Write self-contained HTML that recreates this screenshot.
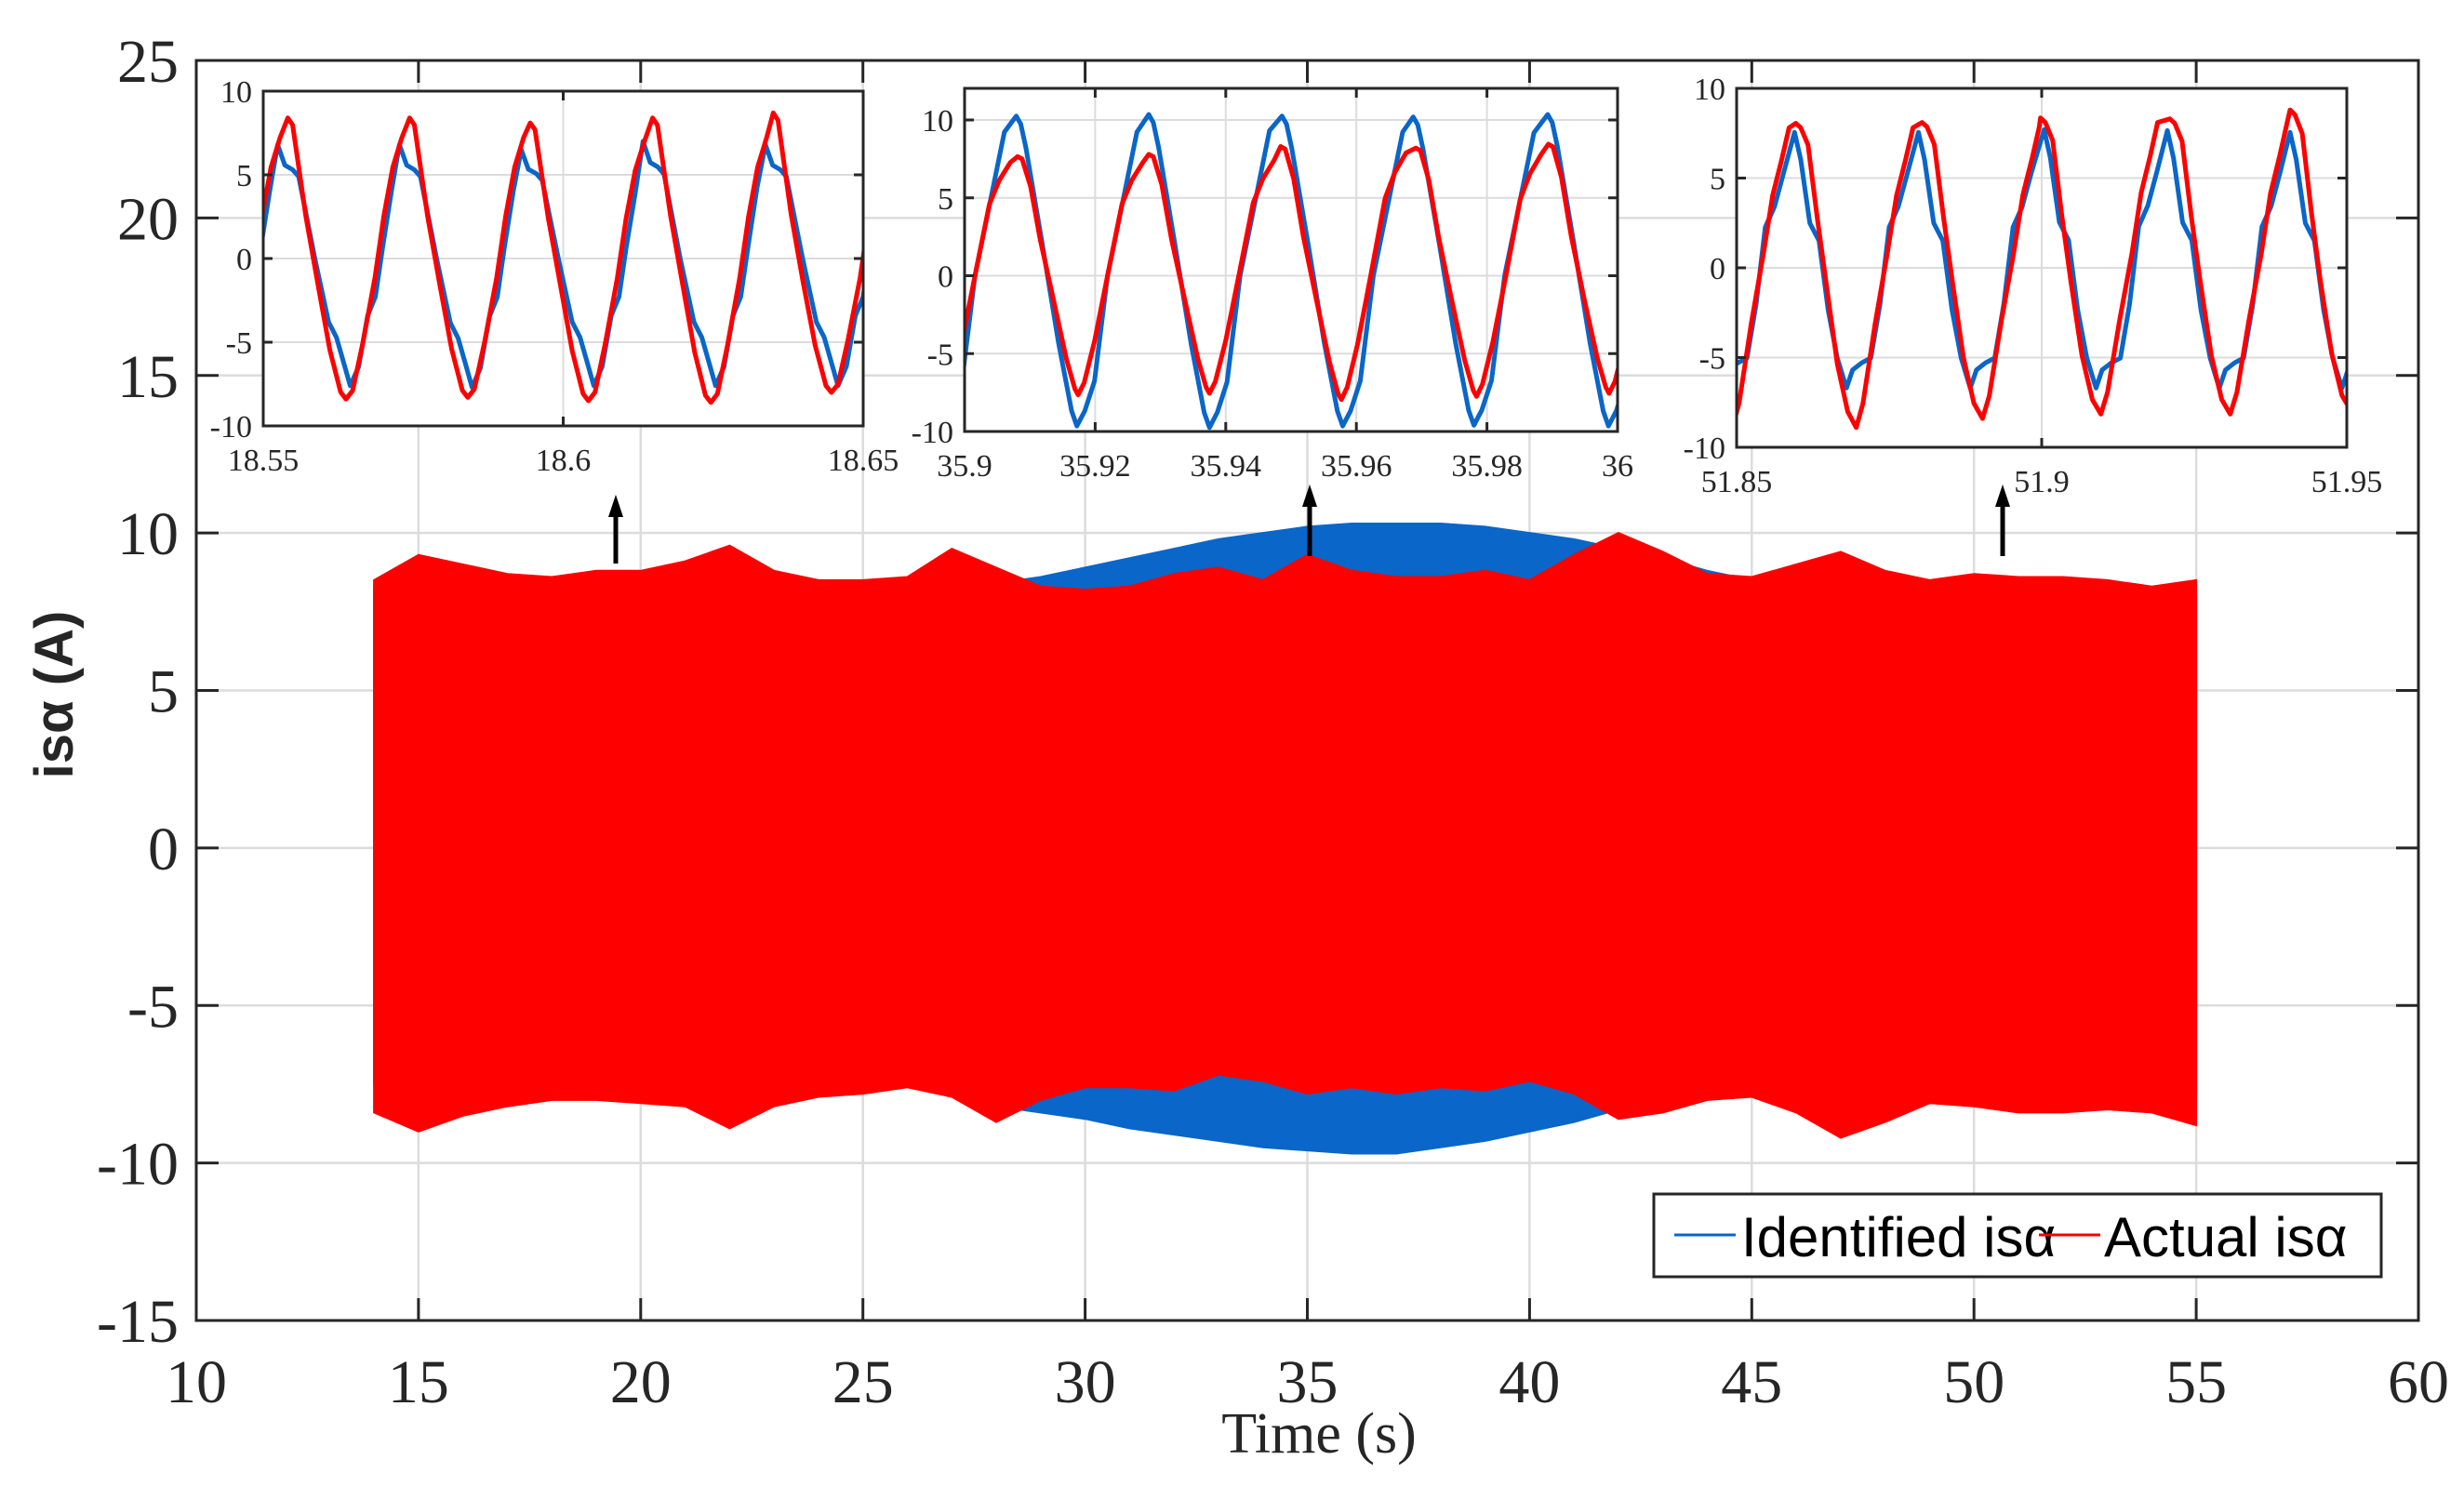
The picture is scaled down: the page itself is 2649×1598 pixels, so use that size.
<!DOCTYPE html>
<html><head><meta charset="utf-8"><style>
html,body{margin:0;padding:0;background:#fff;}
svg{display:block;}
</style></head><body>
<svg id="chart" width="2649" height="1598" viewBox="0 0 2649 1598" xmlns="http://www.w3.org/2000/svg">
<defs>
<clipPath id="mainClip"><rect x="211" y="65" width="2389" height="1355"/></clipPath>
</defs>
<rect width="2649" height="1598" fill="#fff"/>
<g id="mainGrid"></g>
<g id="mainData" clip-path="url(#mainClip)"></g>
<g id="mainAxes"></g>
<g id="insets"></g>
<g id="arrows"></g>
<text x="0" y="0" transform="translate(78,747) rotate(-90)" text-anchor="middle" font-family="Liberation Sans, sans-serif" font-size="58" font-weight="bold" fill="#262626">isα (A)</text>
<text x="1418" y="1562" text-anchor="middle" font-family="Liberation Serif, serif" font-size="62" fill="#262626">Time (s)</text>
<g>
<rect x="1778" y="1284" width="782" height="89" fill="#fff" stroke="#262626" stroke-width="3"/>
<line x1="1800" y1="1328" x2="1866" y2="1328" stroke="#0a66c8" stroke-width="3"/>
<text x="1872" y="1351" font-family="Liberation Sans, sans-serif" font-size="60" fill="#000">Identified isα</text>
<line x1="2192" y1="1328" x2="2258" y2="1328" stroke="#ff0000" stroke-width="3"/>
<text x="2262" y="1351" font-family="Liberation Sans, sans-serif" font-size="60" fill="#000">Actual isα</text>
</g>
</svg>
<script>
// ---------- main chart data ----------
const envTime = [14,15,16,17,18,19,20,21,22,23,24,25,26,27,28,29,30,31,32,33,34,35,36,37,38,39,40,41,42,43,44,45,46,47,48,49,50,51,52,53,54,55];
const blueUpper = [8.3,8.0,7.9,7.8,7.8,7.8,7.8,7.8,7.8,7.8,7.8,7.9,8.0,8.1,8.4,8.6,8.9,9.2,9.5,9.8,10.0,10.2,10.3,10.3,10.3,10.2,10.0,9.8,9.5,9.2,8.8,8.5,8.2,8.1,8.0,8.0,8.0,8.0,8.0,8.0,8.0,8.0];
const blueLower = [-7.5,-7.7,-7.8,-7.8,-7.8,-7.7,-7.6,-7.6,-7.6,-7.6,-7.5,-7.5,-7.6,-7.8,-8.2,-8.4,-8.6,-8.9,-9.1,-9.3,-9.5,-9.6,-9.7,-9.7,-9.5,-9.3,-9.0,-8.7,-8.3,-8.1,-7.9,-7.8,-7.7,-7.6,-7.6,-7.6,-7.6,-7.6,-7.6,-7.7,-7.7,-7.8];
const redUpper = [8.5,9.3,9.0,8.7,8.6,8.8,8.8,9.1,9.6,8.8,8.5,8.5,8.6,9.5,8.9,8.3,8.2,8.3,8.7,8.9,8.5,9.3,8.8,8.6,8.6,8.8,8.5,9.3,10.0,9.4,8.7,8.6,9.0,9.4,8.8,8.5,8.7,8.6,8.6,8.5,8.3,8.5];
const redLower = [-8.4,-9.0,-8.5,-8.2,-8.0,-8.0,-8.1,-8.2,-8.9,-8.2,-7.9,-7.8,-7.6,-7.9,-8.7,-8.0,-7.6,-7.6,-7.7,-7.2,-7.4,-7.8,-7.6,-7.8,-7.6,-7.7,-7.4,-7.8,-8.6,-8.4,-8.0,-7.9,-8.4,-9.2,-8.7,-8.1,-8.2,-8.4,-8.4,-8.3,-8.4,-8.8];
const xTicks = [10,15,20,25,30,35,40,45,50,55,60];
const yTicks = [25,20,15,10,5,0,-5,-10,-15];

// ---------- inset data ----------
const in1RedPeakT = [18.5541,18.5744,18.5945,18.6149,18.6350];
const in1RedPeakV = [8.4,8.4,8.1,8.4,8.7];
const in1RedTroughV = [-8.4,-8.3,-8.5,-8.6,-8.0];
const in1BluePeakT = [18.5524,18.5727,18.5930,18.6133,18.6337];
const in1BluePeakV = [6.8,6.8,6.5,7.0,6.8];
const in1BlueTroughV = [-7.6,-7.7,-7.6,-7.6,-7.6];
const in1RedShapeDt = [0,0.0008,0.003,0.005,0.007,0.0088,0.0097,0.0108,0.0125,0.0145,0.016,0.0175,0.019];
const in1RedShapeF = [1,0.95,0.3,-0.18,-0.65,-0.95,-1,-0.94,-0.6,-0.14,0.3,0.65,0.86];
const in1BlueShapeDt = [0,0.0012,0.0025,0.0035,0.0062,0.0085,0.0098,0.0112,0.0121,0.0135,0.015,0.0163,0.0175,0.019];
const in1BlueShapeF = [1,0.82,0.78,0.72,0,-0.5,-0.62,-0.85,-1,-0.85,-0.45,-0.3,0.1,0.6];

const in2RedPeakT = [35.9081,35.9282,35.9484,35.9691,35.9894];
const in2RedPeakV = [7.65,7.8,8.3,8.2,8.45];
const in2RedTroughV = [-7.65,-7.55,-7.95,-7.75,-7.55];
const in2BluePeakT = [35.9079,35.9282,35.9486,35.9687,35.9893];
const in2BluePeakV = [10.25,10.35,10.25,10.2,10.35];
const in2BlueTroughV = [-9.65,-9.75,-9.65,-9.6,-9.65];
const in2RedShapeDt = [0,0.0007,0.002,0.0035,0.0055,0.0075,0.0088,0.0093,0.0102,0.0118,0.0138,0.016,0.0175,0.0192];
const in2RedShapeF = [1,0.98,0.75,0.3,-0.2,-0.7,-0.95,-1,-0.9,-0.55,0,0.6,0.8,0.95];
const in2BlueShapeDt = [0,0.0007,0.0015,0.004,0.0065,0.0085,0.0093,0.0105,0.012,0.014,0.0165,0.0185];
const in2BlueShapeF = [1,0.95,0.8,0.2,-0.45,-0.9,-1,-0.9,-0.7,0,0.5,0.9];

const in3RedPeakT = [51.8597,51.8804,51.8998,51.9210,51.9407];
const in3RedPeakV = [8.05,8.1,8.35,8.3,8.8];
const in3RedTroughV = [-8.9,-8.4,-8.15,-8.15,-7.9];
const in3BluePeakT = [51.8595,51.8798,51.9004,51.9206,51.9407];
const in3BluePeakV = [7.55,7.55,7.7,7.65,7.55];
const in3BlueTroughV = [-6.7,-6.7,-6.7,-6.7,-6.7];
const in3RedShapeDt = [0,0.0008,0.002,0.0035,0.005,0.0068,0.0085,0.0099,0.011,0.013,0.015,0.0165,0.018,0.0192];
const in3RedShapeF = [1,0.97,0.85,0.35,-0.1,-0.6,-0.9,-1,-0.85,-0.35,0.1,0.5,0.75,0.97];
const in3BlueShapeDt = [0,0.001,0.0025,0.004,0.0055,0.007,0.0085,0.0095,0.011,0.0125,0.014,0.0155,0.017,0.0185];
const in3BlueShapeF = [1,0.8,0.33,0.2,-0.35,-0.75,-1,-0.85,-0.79,-0.75,-0.3,0.3,0.45,0.7];

const NS = 'http://www.w3.org/2000/svg';
function mk(tag, attrs, parent){ const e=document.createElementNS(NS,tag); for(const k in attrs) e.setAttribute(k,attrs[k]); parent.appendChild(e); return e; }

const X = t => 211 + (t-10)*(2389/50);
const Y = v => 65 + (25-v)*(1355/40);

const grid = document.getElementById('mainGrid');
const axes = document.getElementById('mainAxes');
xTicks.forEach(t=>{
  const g = mk('line',{x1:X(t),x2:X(t),y1:65,y2:1420,stroke:'#dcdcdc','stroke-width':2.5},grid);
  
  
});
yTicks.forEach(v=>{
  const g = mk('line',{x1:211,x2:2600,y1:Y(v),y2:Y(v),stroke:'#dcdcdc','stroke-width':2.5},grid);
  
  
});

const mainData = document.getElementById('mainData');
function env(up, lo, color, name){
  let d='';
  envTime.forEach((t,i)=>{ d += (i?'L':'M')+X(t).toFixed(1)+','+Y(up[i]).toFixed(1); });
  for(let i=envTime.length-1;i>=0;i--){ d += 'L'+X(envTime[i]).toFixed(1)+','+Y(lo[i]).toFixed(1); }
  d+='Z';
  const p = mk('path',{d:d,fill:color,stroke:color,'stroke-width':2},mainData);
  
  
}
env(blueUpper, blueLower, '#0a66c8', 'identified-isa-series');
env(redUpper, redLower, '#ff0000', 'actual-isa-series');

const box = mk('rect',{x:211,y:65,width:2389,height:1355,fill:'none',stroke:'#262626','stroke-width':3},axes);


xTicks.forEach(t=>{
  mk('line',{x1:X(t),x2:X(t),y1:1420,y2:1396,stroke:'#262626','stroke-width':3},axes);
  mk('line',{x1:X(t),x2:X(t),y1:65,y2:89,stroke:'#262626','stroke-width':3},axes);
  const lb = mk('text',{x:X(t),y:1508,'text-anchor':'middle','font-family':'Liberation Serif, serif','font-size':66,fill:'#262626'},axes);
  lb.textContent = t;
  
  
});
yTicks.forEach(v=>{
  mk('line',{x1:211,x2:235,y1:Y(v),y2:Y(v),stroke:'#262626','stroke-width':3},axes);
  mk('line',{x1:2600,x2:2576,y1:Y(v),y2:Y(v),stroke:'#262626','stroke-width':3},axes);
  const lb = mk('text',{x:192,y:Y(v)+23,'text-anchor':'end','font-family':'Liberation Serif, serif','font-size':66,fill:'#262626'},axes);
  lb.textContent = v;
  
  
});

const insetsG = document.getElementById('insets');
function buildWave(peakT, peakV, troughV, shapeDt, shapeF, period){
  const pts=[];
  const n=peakT.length;
  const starts=[peakT[0]-period].concat(peakT);
  const pv=[peakV[0]].concat(peakV);
  const tv=[troughV[0]].concat(troughV);
  for(let k=0;k<starts.length;k++){
    for(let j=0;j<shapeDt.length;j++){
      const f=shapeF[j];
      pts.push([starts[k]+shapeDt[j], f>=0 ? f*pv[k] : (-f)*tv[k]]);
    }
  }
  pts.push([peakT[n-1]+period, peakV[n-1]]);
  return pts;
}
function inset(cfg){
  const g = mk('g',{},insetsG);
  
  
  const ix = t => cfg.x0 + (t-cfg.t0)/(cfg.t1-cfg.t0)*(cfg.x1-cfg.x0);
  const iy = v => cfg.y1 - (v-cfg.v0)/(cfg.v1-cfg.v0)*(cfg.y1-cfg.y0);
  mk('rect',{x:cfg.x0,y:cfg.y0,width:cfg.x1-cfg.x0,height:cfg.y1-cfg.y0,fill:'#fff'},g);
  const clipId = cfg.name+'-clip';
  const defs = mk('defs',{},g);
  const cp = mk('clipPath',{id:clipId},defs);
  mk('rect',{x:cfg.x0,y:cfg.y0,width:cfg.x1-cfg.x0,height:cfg.y1-cfg.y0},cp);
  cfg.xt.forEach(t=>{
    const l = mk('line',{x1:ix(t),x2:ix(t),y1:cfg.y0,y2:cfg.y1,stroke:'#dcdcdc','stroke-width':2},g);
    
    
  });
  cfg.yt.forEach(v=>{
    const l = mk('line',{x1:cfg.x0,x2:cfg.x1,y1:iy(v),y2:iy(v),stroke:'#dcdcdc','stroke-width':2},g);
    
    
  });
  const series = [
    [buildWave(cfg.bPT,cfg.bPV,cfg.bTV,cfg.bDt,cfg.bF,cfg.period),'#0a66c8','inset-identified-line'],
    [buildWave(cfg.rPT,cfg.rPV,cfg.rTV,cfg.rDt,cfg.rF,cfg.period),'#ff0000','inset-actual-line']
  ];
  series.forEach(s=>{
    const d = s[0].map((p,i)=>(i?'L':'M')+ix(p[0]).toFixed(1)+','+iy(p[1]).toFixed(1)).join('');
    const p = mk('path',{d:d,fill:'none',stroke:s[1],'stroke-width':5,'stroke-linejoin':'round','clip-path':'url(#'+clipId+')'},g);
    
    
  });
  const b = mk('rect',{x:cfg.x0,y:cfg.y0,width:cfg.x1-cfg.x0,height:cfg.y1-cfg.y0,fill:'none',stroke:'#262626','stroke-width':3},g);
  
  
  cfg.xt.forEach((t,i)=>{
    mk('line',{x1:ix(t),x2:ix(t),y1:cfg.y1,y2:cfg.y1-10,stroke:'#262626','stroke-width':3},g);
    mk('line',{x1:ix(t),x2:ix(t),y1:cfg.y0,y2:cfg.y0+10,stroke:'#262626','stroke-width':3},g);
    const lb = mk('text',{x:ix(t),y:cfg.y1+48,'text-anchor':'middle','font-family':'Liberation Serif, serif','font-size':34,fill:'#262626'},g);
    lb.textContent = cfg.xl[i];
    
    
  });
  cfg.yt.forEach(v=>{
    mk('line',{x1:cfg.x0,x2:cfg.x0+10,y1:iy(v),y2:iy(v),stroke:'#262626','stroke-width':3},g);
    mk('line',{x1:cfg.x1,x2:cfg.x1-10,y1:iy(v),y2:iy(v),stroke:'#262626','stroke-width':3},g);
    const lb = mk('text',{x:cfg.x0-12,y:iy(v)+12,'text-anchor':'end','font-family':'Liberation Serif, serif','font-size':34,fill:'#262626'},g);
    lb.textContent = v;
    
    
  });
}
inset({name:'inset-18-6s',x0:283,x1:928,y0:98,y1:458,t0:18.55,t1:18.65,v0:-10,v1:10,period:0.0203,
  xt:[18.55,18.6,18.65],xl:['18.55','18.6','18.65'],yt:[-10,-5,0,5,10],
  rPT:in1RedPeakT,rPV:in1RedPeakV,rTV:in1RedTroughV,rDt:in1RedShapeDt,rF:in1RedShapeF,
  bPT:in1BluePeakT,bPV:in1BluePeakV,bTV:in1BlueTroughV,bDt:in1BlueShapeDt,bF:in1BlueShapeF});
inset({name:'inset-35-9s',x0:1037,x1:1739,y0:95,y1:464,t0:35.9,t1:36.0,v0:-10,v1:12.03,period:0.0203,
  xt:[35.9,35.92,35.94,35.96,35.98,36.0],xl:['35.9','35.92','35.94','35.96','35.98','36'],yt:[-10,-5,0,5,10],
  rPT:in2RedPeakT,rPV:in2RedPeakV,rTV:in2RedTroughV,rDt:in2RedShapeDt,rF:in2RedShapeF,
  bPT:in2BluePeakT,bPV:in2BluePeakV,bTV:in2BlueTroughV,bDt:in2BlueShapeDt,bF:in2BlueShapeF});
inset({name:'inset-51-9s',x0:1867,x1:2523,y0:95,y1:481,t0:51.85,t1:51.95,v0:-10,v1:10,period:0.0203,
  xt:[51.85,51.9,51.95],xl:['51.85','51.9','51.95'],yt:[-10,-5,0,5,10],
  rPT:in3RedPeakT,rPV:in3RedPeakV,rTV:in3RedTroughV,rDt:in3RedShapeDt,rF:in3RedShapeF,
  bPT:in3BluePeakT,bPV:in3BluePeakV,bTV:in3BlueTroughV,bDt:in3BlueShapeDt,bF:in3BlueShapeF});

const arrowsG = document.getElementById('arrows');
[[662,532,606],[1408,521,598],[2153,521,598]].forEach(a=>{
  const g = mk('g',{},arrowsG);
  
  
  mk('line',{x1:a[0],x2:a[0],y1:a[1]+14,y2:a[2],stroke:'#000','stroke-width':5},g);
  mk('polygon',{points:(a[0]-8)+','+(a[1]+24)+' '+a[0]+','+a[1]+' '+(a[0]+8)+','+(a[1]+24),fill:'#000'},g);
});
</script>
</body></html>
